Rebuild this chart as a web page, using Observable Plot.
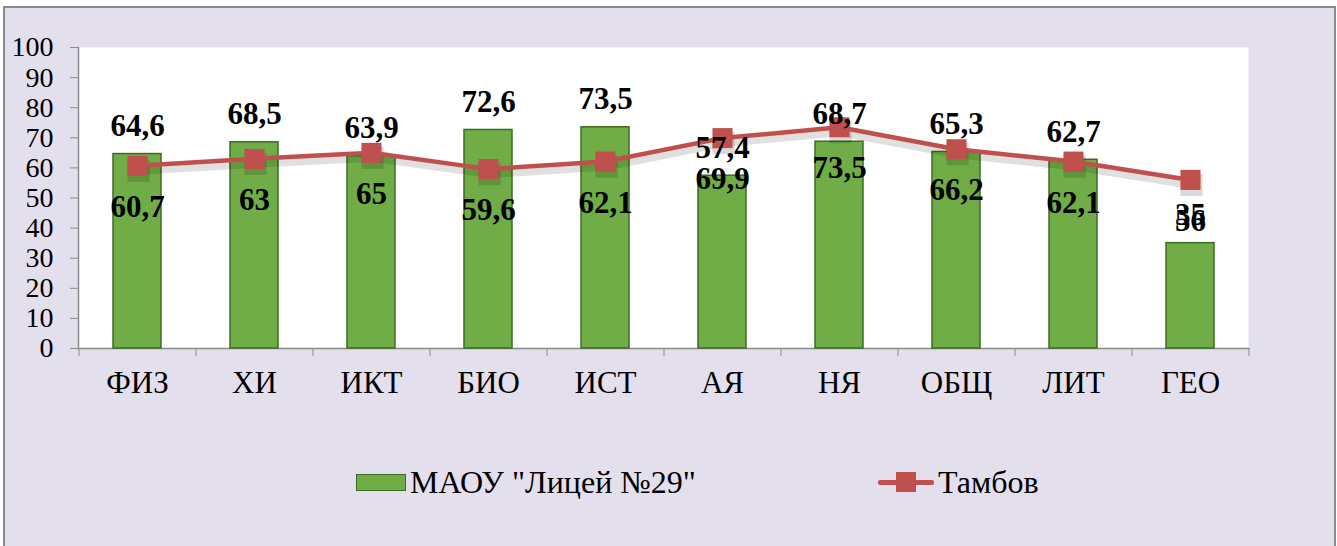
<!DOCTYPE html>
<html>
<head>
<meta charset="utf-8">
<script src="https://cdn.jsdelivr.net/npm/d3@7"></script>
<script src="https://cdn.jsdelivr.net/npm/@observablehq/plot@0.6"></script>
<style>
  html, body { margin: 0; padding: 0; background: #ffffff; }
  #frame {
    position: absolute; left: 3px; top: 6px; width: 1333px; height: 560px;
    box-sizing: border-box; border: 2px solid #8a8a8a; background: #E4DFEC;
  }
  #chart { position: absolute; left: 0; top: 0; }
  #legend { position: absolute; left: 0; top: 0; width: 1337px; height: 546px; pointer-events: none;
    font-family: "Liberation Serif", "Times New Roman", serif; font-size: 32px; color: #000; }
  .sw-bar { position: absolute; left: 356px; top: 474px; width: 48px; height: 15px;
    background: #70AD47; border: 1.5px solid #3E6B23; }
  .sw-line { position: absolute; left: 878px; top: 480px; width: 56px; height: 5px; background: #C0504D; border-radius: 2px; }
  .sw-sq { position: absolute; left: 896px; top: 472px; width: 20px; height: 20px; background: #C0504D; }
  .lbl { position: absolute; top: 464px; line-height: 36px; white-space: nowrap; }
</style>
</head>
<body>
<div id="frame"></div>
<div id="chart"></div>
<div id="legend">
  <div class="sw-bar"></div><div class="lbl" style="left:410px">МАОУ "Лицей №29"</div>
  <div class="sw-line"></div><div class="sw-sq"></div><div class="lbl" style="left:938px">Тамбов</div>
</div>
<script>
const categories = ["ФИЗ", "ХИ", "ИКТ", "БИО", "ИСТ", "АЯ", "НЯ", "ОБЩ", "ЛИТ", "ГЕО"];
const lyceum = [64.6, 68.5, 63.9, 72.6, 73.5, 57.4, 68.7, 65.3, 62.7, 35];
const tambov = [60.7, 63, 65, 59.6, 62.1, 69.9, 73.5, 66.2, 62.1, 56];
const yTicks = [0, 10, 20, 30, 40, 50, 60, 70, 80, 90, 100];
const seriesNames = ['МАОУ "Лицей №29"', "Тамбов"];

const data = categories.map((c, i) => ({cat: c, a: lyceum[i], b: tambov[i]}));
const fmt = v => String(v).replace(".", ",");

const W = 1337, H = 410, ML = 78, MR = 89, MT = 47, MB = 62;
const step = (W - ML - MR) / categories.length;
const serif = '"Liberation Serif", "Times New Roman", serif';

const chart = Plot.plot({
  width: W, height: H,
  marginLeft: ML, marginRight: MR, marginTop: MT, marginBottom: MB,
  style: {background: "transparent", fontFamily: serif, color: "#000"},
  x: {domain: categories, paddingInner: 0.59, paddingOuter: 0.295, label: null},
  y: {domain: [0, 100], label: null},
  marks: [
    Plot.frame({fill: "white"}),
    Plot.axisY({ticks: yTicks, tickSize: 8, tickPadding: 17, stroke: "#8a8a8a", strokeOpacity: 1,
      fontSize: 28, fill: "#000", label: null}),
    Plot.frame({anchor: "left", stroke: "#8a8a8a", strokeWidth: 1.5}),
    Plot.frame({anchor: "bottom", stroke: "#8a8a8a", strokeWidth: 1.5}),
    Plot.axisX({tickSize: 8, dx: -step / 2, tickFormat: () => "", stroke: "#8a8a8a", strokeOpacity: 1, label: null}),
    Plot.axisX({ticks: [categories[categories.length - 1]], tickSize: 8, dx: step / 2, tickFormat: () => "", stroke: "#8a8a8a", strokeOpacity: 1, label: null}),
    Plot.axisX({tickSize: 0, tickPadding: 22, fontSize: 31, fill: "#000", label: null}),
    Plot.barY(data, {x: "cat", y: "a", fill: "#70AD47", stroke: "#3E6B23", strokeWidth: 1.5}),
    // soft shadow under the Tambov series
    Plot.lineY(data, {x: "cat", y: "b", stroke: "#000", strokeOpacity: 0.12, strokeWidth: 8, dx: 1, dy: 5}),
    Plot.dot(data, {x: "cat", y: "b", symbol: "square", r: 12.5, fill: "#000", fillOpacity: 0.15, dx: 1, dy: 5}),
    Plot.lineY(data, {x: "cat", y: "b", stroke: "#C0504D", strokeWidth: 4.5}),
    Plot.dot(data, {x: "cat", y: "b", symbol: "square", r: 11.3, fill: "#C0504D"}),
    Plot.text(data, {x: "cat", y: "a", text: d => fmt(d.a), dy: -28, fontSize: 31, fontWeight: "bold", fill: "#000"}),
    Plot.text(data, {x: "cat", y: "b", text: d => fmt(d.b), dy: 41, fontSize: 31, fontWeight: "bold", fill: "#000"})
  ]
});
document.getElementById("chart").appendChild(chart);
</script>
</body>
</html>
